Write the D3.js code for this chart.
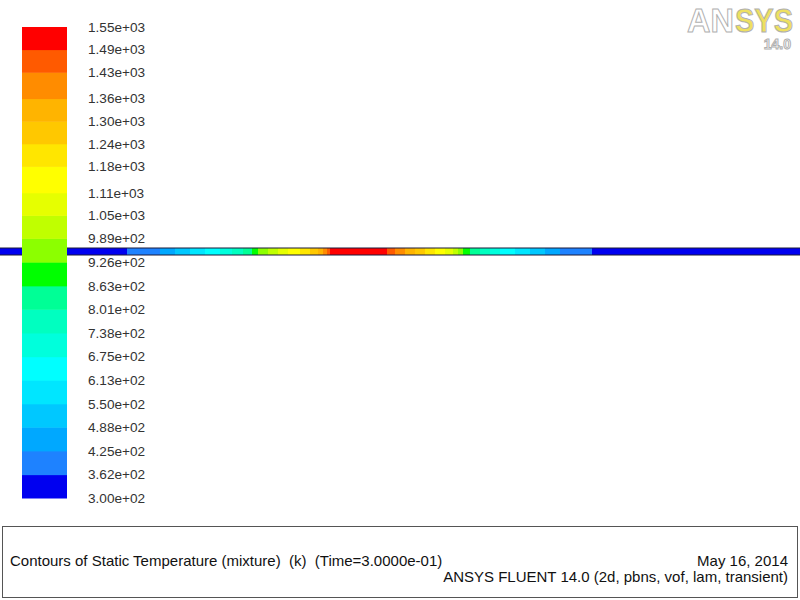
<!DOCTYPE html>
<html>
<head>
<meta charset="utf-8">
<script src="https://cdn.jsdelivr.net/npm/d3@7"></script>
<style>
  body { margin: 0; background: #fff; }
  svg { display: block; font-family: "Liberation Sans", Arial, sans-serif; }
  text { white-space: pre; }
</style>
</head>
<body>
<svg id="chart" width="800" height="600"></svg>
<script>
"use strict";

// colour map levels, lowest first (as printed on the legend)
var tickLabels = ['3.00e+02', '3.62e+02', '4.25e+02', '4.88e+02', '5.50e+02', '6.13e+02',
  '6.75e+02', '7.38e+02', '8.01e+02', '8.63e+02', '9.26e+02', '9.89e+02', '1.05e+03',
  '1.11e+03', '1.18e+03', '1.24e+03', '1.30e+03', '1.36e+03', '1.43e+03', '1.49e+03', '1.55e+03'];

// one colour per band between two levels
var bandColors = ['#0000f0', '#1e82ff', '#00a8ff', '#00c8ff', '#00e6ff', '#00ffff',
  '#00ffdc', '#00ffc0', '#00ff96', '#00ff00', '#8cff00', '#c0ff00', '#e6ff00',
  '#ffff00', '#ffe600', '#ffc800', '#ffb400', '#ff8c00', '#ff5a00', '#ff0000'];

// temperature along the strip: segment edges (mm) and temperature in each segment (K)
var stripEdges = [0, 63.5, 80, 87.5, 95, 102.5, 110, 116, 121.5, 126, 129, 134, 139, 144,
  150, 155, 159, 161.5, 163.5, 165, 193.5, 197.5, 202.5, 207.5, 212.5, 217.5, 222.5,
  226.5, 229, 231.5, 235, 240, 245, 250, 257.5, 265, 272.5, 280, 296, 400];
var stripTemp = [300, 400, 460, 520, 580, 640, 700, 770, 830, 900, 950, 1020, 1080, 1150,
  1210, 1270, 1330, 1400, 1460, 1520, 1460, 1400, 1330, 1270, 1210, 1150, 1080,
  1020, 950, 900, 830, 770, 700, 640, 580, 520, 460, 400, 300];

var title = 'Contours of Static Temperature (mixture)  (k)  (Time=3.0000e-01)';
var dateText = 'May 16, 2014';
var solverText = 'ANSYS FLUENT 14.0 (2d, pbns, vof, lam, transient)';

var svg = d3.select('#chart');
var levels = tickLabels.map(Number);

var color = d3.scaleThreshold()
  .domain(levels.slice(1, -1))
  .range(bandColors);

// strip geometry
var x = d3.scaleLinear().domain([0, 400]).range([0, 800]);
var stripTop = 248, stripH = 7;

var segs = stripTemp.map(function(t, i) {
  return { x0: stripEdges[i], x1: stripEdges[i + 1], t: t };
});

var strip = svg.append('g').attr('class', 'strip');
strip.selectAll('rect')
  .data(segs)
  .enter()
  .append('rect')
  .attr('x', d => x(d.x0))
  .attr('width', d => x(d.x1) - x(d.x0) + 0.5)
  .attr('y', stripTop)
  .attr('height', stripH)
  .attr('fill', d => color(d.t));

// dark edges of the strip
strip.selectAll('line')
  .data([stripTop, stripTop + stripH])
  .enter()
  .append('line')
  .attr('x1', x(0)).attr('x2', x(400))
  .attr('y1', d => d).attr('y2', d => d)
  .attr('stroke', '#1a1a3a')
  .attr('stroke-width', 1);

// colour bar, drawn over the strip
var y = d3.scaleLinear().domain([levels[0], levels[levels.length - 1]]).range([498, 27]);
var bar = svg.append('g').attr('class', 'colorbar');

bar.selectAll('rect')
  .data(bandColors)
  .enter()
  .append('rect')
  .attr('x', 22)
  .attr('width', 45)
  .attr('y', (d, i) => y(levels[i + 1]))
  .attr('height', (d, i) => y(levels[i]) - y(levels[i + 1]) + 0.5)
  .attr('fill', d => d);

bar.selectAll('text')
  .data(tickLabels)
  .enter()
  .append('text')
  .attr('x', 88)
  .attr('y', (d, i) => y(levels[i]))
  .attr('dy', '0.35em')
  .attr('font-size', 13.6)
  .attr('fill', '#333')
  .text(d => d);

// logo in the top right corner, each word squeezed to its width
var logo = svg.append('g').attr('class', 'logo')
  .attr('font-weight', 'bold')
  .attr('stroke', '#b0b0b0')
  .attr('stroke-width', 1)
  .attr('font-size', 34);

var logoParts = [
  { text: 'AN', x: 687, w: 47, fill: '#ffffff' },
  { text: 'SYS', x: 735, w: 58, fill: '#eee060' }
];
logo.selectAll('text.word')
  .data(logoParts)
  .enter()
  .append('text')
  .attr('class', 'word')
  .attr('fill', d => d.fill)
  .text(d => d.text)
  .each(function(d) {
    var s = d.w / this.getComputedTextLength();
    d3.select(this).attr('transform', 'translate(' + d.x + ',32) scale(' + s + ',1)');
  });

logo.append('text')
  .attr('x', 791)
  .attr('y', 49)
  .attr('text-anchor', 'end')
  .attr('font-size', 14)
  .attr('fill', '#ffffff')
  .text('14.0');

// caption box
var box = svg.append('g').attr('class', 'caption');
box.append('rect')
  .attr('x', 2.5).attr('y', 526.5)
  .attr('width', 795).attr('height', 71)
  .attr('fill', 'none')
  .attr('stroke', '#555')
  .attr('stroke-width', 1);

box.append('text')
  .attr('x', 10).attr('y', 566)
  .attr('font-size', 15)
  .attr('fill', '#111')
  .text(title);

box.append('text')
  .attr('x', 788).attr('y', 566)
  .attr('text-anchor', 'end')
  .attr('font-size', 15)
  .attr('fill', '#111')
  .text(dateText);

box.append('text')
  .attr('x', 788).attr('y', 582)
  .attr('text-anchor', 'end')
  .attr('font-size', 15)
  .attr('fill', '#111')
  .text(solverText);
</script>
</body>
</html>
